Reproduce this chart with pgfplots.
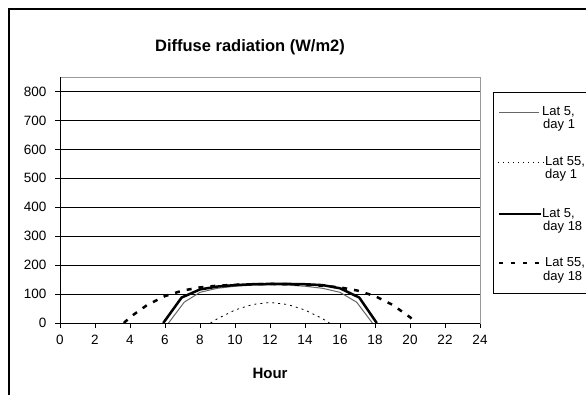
\documentclass[border=0pt]{standalone}
\usepackage{fontspec}
\setmainfont{Liberation Sans}
\usepackage{pgfplots}
\pgfplotsset{compat=1.18}

\begin{document}
\begin{tikzpicture}
\useasboundingbox (0pt,0pt) rectangle (586pt,-394pt);
\begin{scope}
\clip (0pt,0pt) rectangle (586pt,-394pt);
% chart border (cut off at right and bottom)
\draw[line width=1.2pt] (9pt,-420pt) -- (9pt,-9pt) -- (620pt,-9pt);

\node[font=\fontsize{16.5}{19}\selectfont\bfseries] at (250pt,-47pt) {Diffuse radiation (W/m2)};

\begin{axis}[
    at={(60pt,-323pt)}, anchor=south west,
    scale only axis, width=420pt, height=246pt,
    xmin=0, xmax=24, ymin=0, ymax=850,
    xtick={0,2,...,24}, ytick={0,100,...,800},
    axis line style={draw=black!40, line width=0.8pt},
    ymajorgrids, grid style={black, line width=0.8pt},
    tick align=outside, xtick pos=bottom, ytick pos=left,
    major tick length=5pt, tick style={black, line width=0.8pt},
    ticklabel style={font=\fontsize{13.5}{16}\selectfont},
    xticklabel style={yshift=-4pt},
    yticklabel style={xshift=-5pt},
    /pgf/number format/assume math mode=true,
    xlabel={Hour},
    xlabel style={font=\fontsize{15}{18}\selectfont\bfseries,
        at={(rel axis cs:0.5,0)}, anchor=center, yshift=-50pt},
    clip=false
]
% Lat 5, day 1
\addplot[black!60, line width=1pt] table {
6.2 0
7.1 72
8 106
9 120
10 127
11 131
12 132
13 131
14 127
15 120
16 106
16.95 72
17.85 0
};
% Lat 55, day 1
\addplot[black, line width=0.8pt, dash pattern=on 2pt off 4pt] table {
8.6 0
9 15
10 45
11 64
12 71
13 64
14 45
15 15
15.4 0
};
% Lat 5, day 18
\addplot[black, line width=2.5pt] table {
5.9 0
6.95 88
8 116
9 126
10 131
11 134
12 135
13 135
14 134
15 131
16 120
17.1 88
18.1 0
};
% Lat 55, day 18
\addplot[black, line width=2.5pt, dash pattern=on 5pt off 7pt] table {
3.65 0
4 20
5 63
6 93
7 112
8 123
9 129
10 132
11 134
12 135
13 134
14 132
15 129
16 123
17 112
18 93
19 63
20 20
20.35 0
};
\draw[black, line width=0.8pt] (rel axis cs:0,1) -- (rel axis cs:0,0) -- (rel axis cs:1,0);
\end{axis}

% legend
\draw[black, line width=1pt] (493pt,-92pt) rectangle (640pt,-293pt);
\begin{scope}[every node/.style={font=\fontsize{13}{15}\selectfont, inner sep=0pt, anchor=west}]
\draw[black!60, line width=1pt] (499pt,-112pt) -- (539pt,-112pt);
\node at (542pt,-112pt) {Lat 5,};
\node at (543pt,-125pt) {day 1};
\draw[black, line width=0.8pt, dash pattern=on 1pt off 4pt] (498pt,-162pt) -- (544pt,-162pt);
\node at (545pt,-162pt) {Lat 55,};
\node at (545pt,-175pt) {day 1};
\draw[black, line width=2.5pt] (499pt,-214pt) -- (541pt,-214pt);
\node at (542pt,-214pt) {Lat 5,};
\node at (543pt,-227pt) {day 18};
\draw[black, line width=2.5pt, dash pattern=on 4pt off 8pt] (499pt,-263pt) -- (545pt,-263pt);
\node at (545pt,-263pt) {Lat 55,};
\node at (543pt,-277pt) {day 18};
\end{scope}
\end{scope}
\end{tikzpicture}
\end{document}
